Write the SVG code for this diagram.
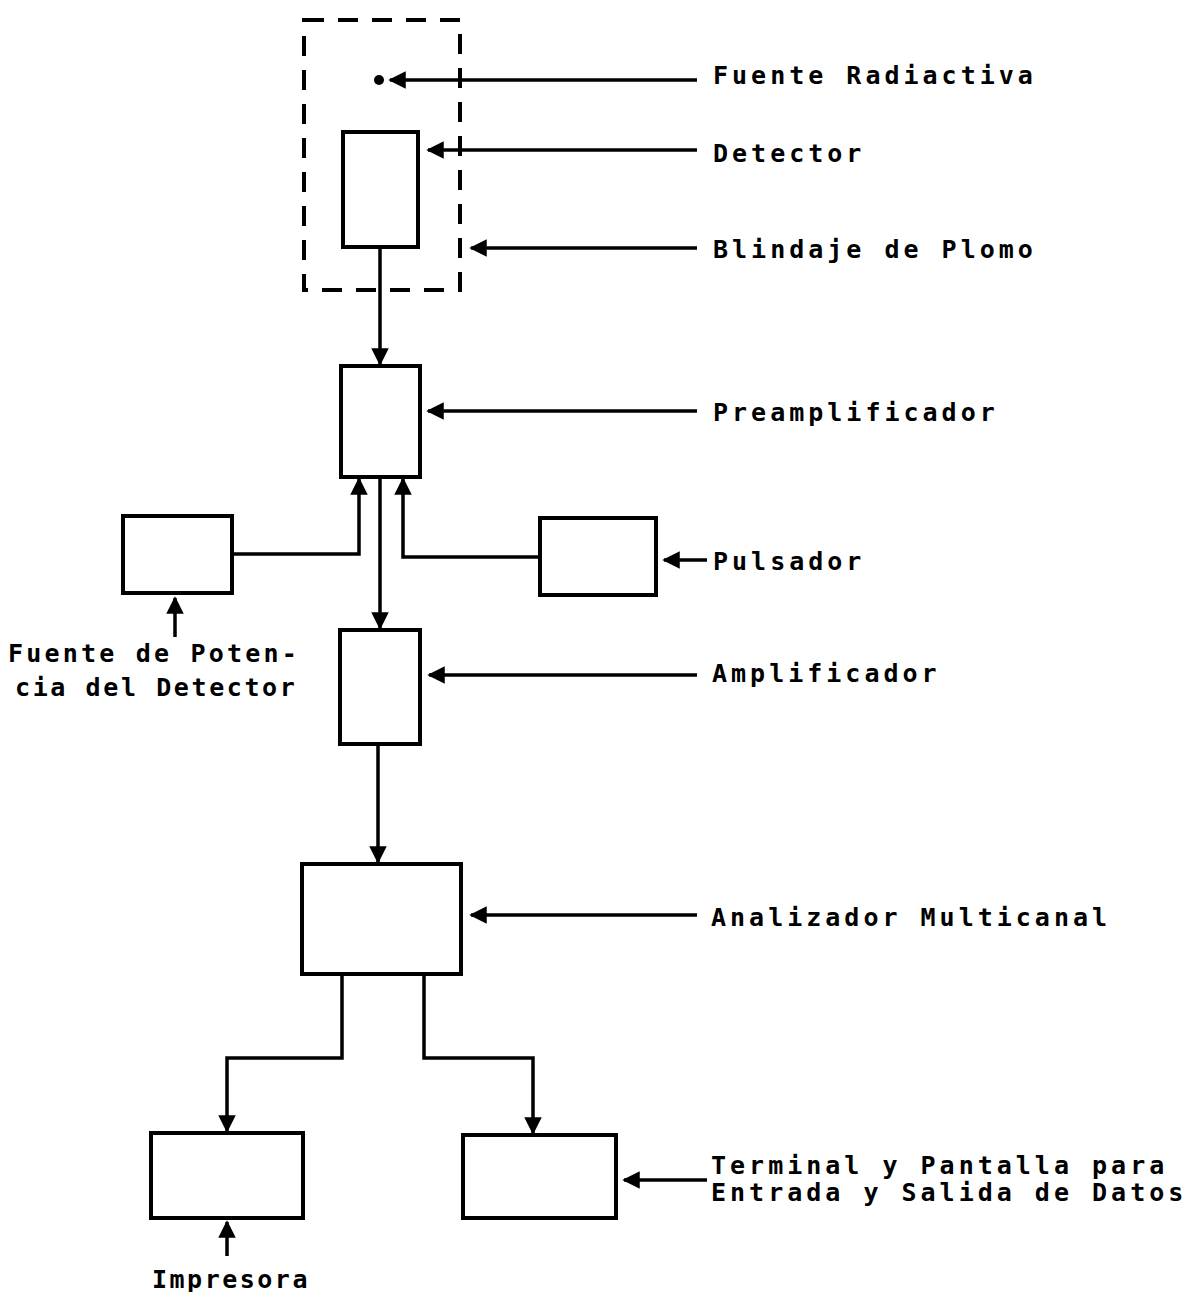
<svg xmlns="http://www.w3.org/2000/svg" width="1198" height="1292" viewBox="0 0 1198 1292">
<style>
.box{fill:none;stroke:#000;stroke-width:4}
.ln{fill:none;stroke:#000;stroke-width:3.5;marker-end:url(#ah)}
.t{font-family:"DejaVu Sans Mono","Liberation Mono",monospace;font-weight:bold;font-size:25px;letter-spacing:4px;fill:#000}
</style>
<defs>
<marker id="ah" viewBox="0 0 10 10" refX="9" refY="5" markerWidth="6" markerHeight="5" orient="auto" markerUnits="strokeWidth">
<path d="M0,0 L10,5 L0,10 Z" fill="#000"/>
</marker>
</defs>
<rect width="1198" height="1292" fill="#fff"/>
<g id="blindaje"><rect x="304" y="20" width="156" height="270" class="box" stroke-dasharray="20,14"/></g>
<g id="fuente-radiactiva"><circle cx="379" cy="80" r="5" fill="#000"/></g>
<g id="detector"><rect x="343" y="132" width="75" height="115" class="box"/></g>
<g id="preamplificador"><rect x="341" y="366" width="79" height="111" class="box"/></g>
<g id="fuente-potencia"><rect x="123" y="516" width="109" height="77" class="box"/></g>
<g id="pulsador"><rect x="540" y="518" width="116" height="77" class="box"/></g>
<g id="amplificador"><rect x="340" y="630" width="80" height="114" class="box"/></g>
<g id="analizador"><rect x="302" y="864" width="159" height="110" class="box"/></g>
<g id="impresora"><rect x="151" y="1133" width="152" height="85" class="box"/></g>
<g id="terminal"><rect x="463" y="1135" width="153" height="83" class="box"/></g>
<g id="connectors">
<path d="M697,80 H390" class="ln"/>
<path d="M697,150 H428" class="ln"/>
<path d="M697,248 H471" class="ln"/>
<path d="M697,411 H428" class="ln"/>
<path d="M697,675 H429" class="ln"/>
<path d="M697,915 H471" class="ln"/>
<path d="M707,560 H664" class="ln"/>
<path d="M707,1180 H624" class="ln"/>
<path d="M175,637 V598" class="ln"/>
<path d="M227,1256 V1222" class="ln"/>
<path d="M380,247 V364" class="ln"/>
<path d="M232,554 H359 V479" class="ln"/>
<path d="M540,557 H403 V479" class="ln"/>
<path d="M380,477 V628" class="ln"/>
<path d="M378,744 V862" class="ln"/>
<path d="M342,974 V1058 H227 V1131" class="ln"/>
<path d="M424,974 V1058 H533 V1133" class="ln"/>
</g>
<g id="labels">
<text x="713" y="84" class="t">Fuente Radiactiva</text>
<text x="713" y="162" class="t">Detector</text>
<text x="713" y="258" class="t">Blindaje de Plomo</text>
<text x="713" y="421" class="t">Preamplificador</text>
<text x="713" y="570" class="t">Pulsador</text>
<text x="712" y="682" class="t">Amplificador</text>
<text x="711" y="926" class="t">Analizador Multicanal</text>
<text x="711" y="1174" class="t">Terminal y Pantalla para</text>
<text x="711" y="1201" class="t">Entrada y Salida de Datos</text>
<text x="8" y="662" class="t" style="letter-spacing:3.2px">Fuente de Poten-</text>
<text x="15" y="696" class="t" style="letter-spacing:2.6px">cia del Detector</text>
<text x="152" y="1288" class="t" style="letter-spacing:2.5px">Impresora</text>
</g>
</svg>
